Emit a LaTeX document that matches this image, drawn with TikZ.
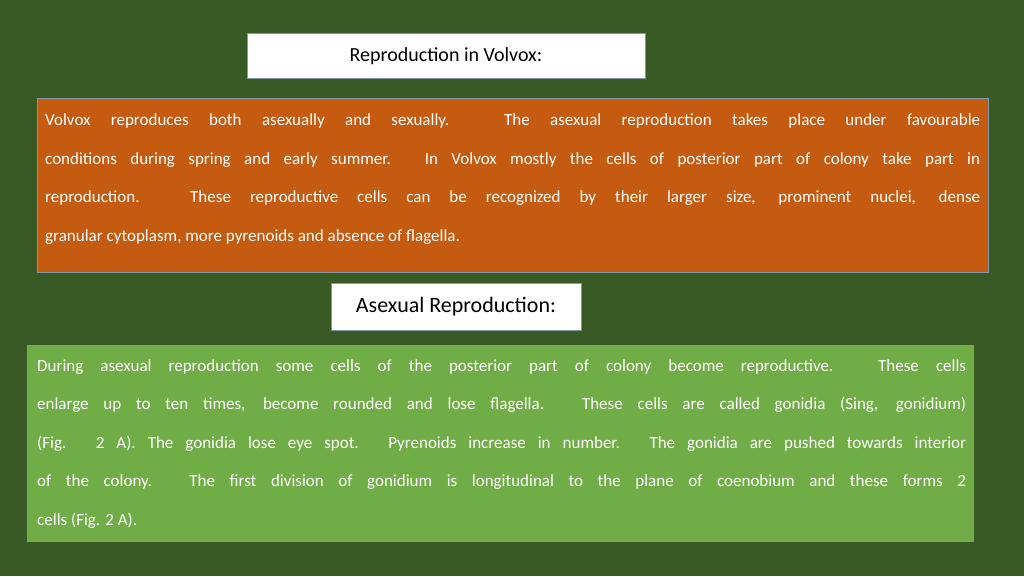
\documentclass[tikz,border=0pt]{standalone}
\usepackage{fontspec}
\setmainfont{Carlito}
\definecolor{bg}{HTML}{3A5A25}
\definecolor{org}{HTML}{C55A11}
\definecolor{grn}{HTML}{70AD47}
\definecolor{bord}{HTML}{8497A8}
\tikzset{box/.style={draw=bord,line width=1pt},
 para/.style={anchor=base west,inner sep=0pt,text=white}}
\newcommand{\jpar}[2]{\vtop{\hsize=#1\parindent=0pt\hyphenpenalty=10000\fontsize{17}{38.5}\selectfont #2}}
\begin{document}
\begin{tikzpicture}[x=1pt,y=1pt]
\useasboundingbox (0,0) rectangle (1024,576);
\fill[bg] (0,0) rectangle (1024,576);
\draw[box,fill=white] (247,497) rectangle (645,542);
\node (t1) at (446,519.5) {\fontsize{20}{24}\selectfont Reproduction in Volvox:};
\draw[box,fill=org] (37,477) rectangle (988,303);
\node[para] (p1) at (45,450) {\jpar{935pt}{Volvox reproduces both asexually and sexually. The asexual reproduction takes place under favourable\linebreak conditions during spring and early summer. In Volvox mostly the cells of posterior part of colony take part in\linebreak reproduction. These reproductive cells can be recognized by their larger size, prominent nuclei, dense\linebreak granular cytoplasm, more pyrenoids and absence of flagella.}};
\draw[box,fill=white] (331,292) rectangle (581,246);
\node (t2) at (456,269) {\fontsize{22}{26}\selectfont Asexual Reproduction:};
\draw[box,fill=grn] (27,231) rectangle (973,35);
\node[para] (p2) at (37,205) {\jpar{929pt}{During asexual reproduction some cells of the posterior part of colony become reproductive. These cells\linebreak enlarge up to ten times, become rounded and lose flagella. These cells are called gonidia (Sing, gonidium)\linebreak (Fig. 2 A). The gonidia lose eye spot. Pyrenoids increase in number. The gonidia are pushed towards interior\linebreak of the colony. The first division of gonidium is longitudinal to the plane of coenobium and these forms 2\linebreak cells (Fig. 2 A).}};
\end{tikzpicture}
\end{document}
